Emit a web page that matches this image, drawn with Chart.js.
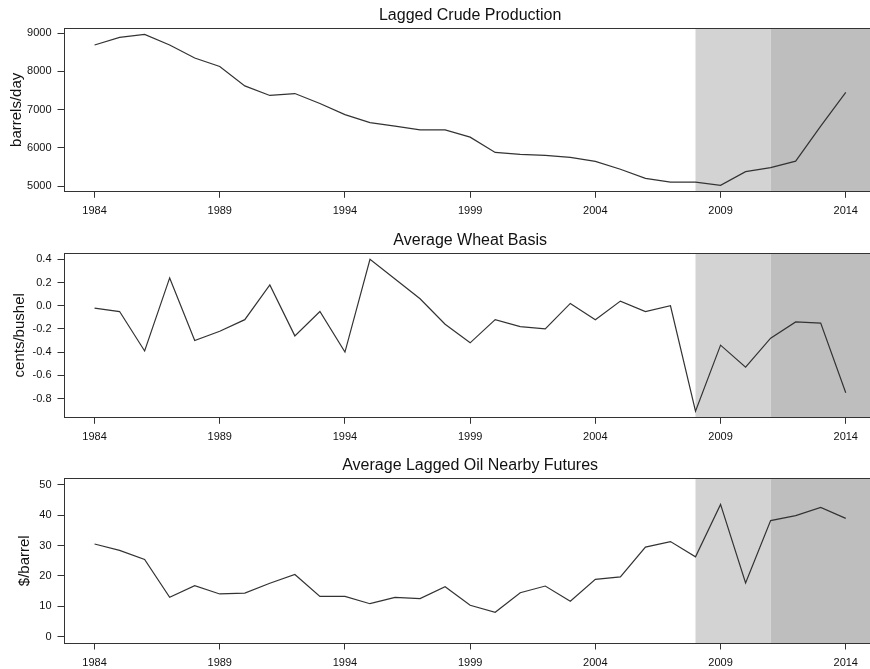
<!DOCTYPE html>
<html>
<head>
<meta charset="utf-8">
<script src="https://cdn.jsdelivr.net/npm/chart.js@4.4.1/dist/chart.umd.min.js"></script>
<style>
  html, body { margin: 0; padding: 0; background: #fff; overflow: hidden; width: 870px; height: 669px; }
  canvas { position: absolute; left: 0; }
</style>
</head>
<body>
<canvas id="crude" width="920" height="222" style="top:0px"></canvas>
<canvas id="wheat" width="920" height="224" style="top:222px"></canvas>
<canvas id="oil" width="920" height="223" style="top:446px"></canvas>
<script>
// Annual series, 1984-2014
const years = [1984, 1985, 1986, 1987, 1988, 1989, 1990, 1991, 1992, 1993,
               1994, 1995, 1996, 1997, 1998, 1999, 2000, 2001, 2002, 2003,
               2004, 2005, 2006, 2007, 2008, 2009, 2010, 2011, 2012, 2013, 2014];

// Lagged crude production, barrels/day
const crudeProduction = [8690, 8890, 8970, 8690, 8350, 8130, 7620, 7370, 7420, 7160,
                         6870, 6660, 6570, 6470, 6470, 6280, 5880, 5830, 5800, 5750,
                         5645, 5440, 5200, 5100, 5100, 5020, 5375, 5480, 5650, 6570, 7450];

// Average wheat basis, cents/bushel
const wheatBasis = [-0.02, -0.05, -0.39, 0.24, -0.30, -0.22, -0.12, 0.18, -0.26, -0.05,
                    -0.40, 0.40, 0.23, 0.06, -0.16, -0.32, -0.12, -0.18, -0.20, 0.02,
                    -0.12, 0.04, -0.05, 0.00, -0.91, -0.34, -0.53, -0.28, -0.14, -0.15, -0.75];

// Average lagged oil nearby futures, $/barrel
const oilFutures = [30.5, 28.4, 25.4, 13.0, 16.8, 14.1, 14.4, 17.6, 20.5, 13.3,
                    13.3, 10.9, 13.0, 12.6, 16.5, 10.4, 8.1, 14.5, 16.7, 11.7,
                    18.9, 19.7, 29.5, 31.3, 26.3, 43.5, 17.7, 38.2, 39.8, 42.5, 38.9];

// Axis tick values
const yearTicks  = [1984, 1989, 1994, 1999, 2004, 2009, 2014];
const crudeTicks = [5000, 6000, 7000, 8000, 9000];
const wheatTicks = [-0.8, -0.6, -0.4, -0.2, 0.0, 0.2, 0.4];
const oilTicks   = [0, 10, 20, 30, 40, 50];

// Start years of the two shaded periods (the second runs to the end of the axis)
const periodStarts = [2008, 2011];

const FONT = "'Liberation Sans', Arial, Helvetica, sans-serif";
const CANVAS_W = 920;
const PLOT_LEFT = 64.5;
const PLOT_RIGHT = 875.8;

// Extend a range by 4% at each end, like a default base-graphics axis
function padRange(lo, hi) {
  const d = (hi - lo) * 0.04;
  return [lo - d, hi + d];
}

const shadePlugin = {
  id: 'periodShade',
  beforeDatasetsDraw(chart) {
    const { ctx, chartArea: a, scales: { x } } = chart;
    const fills = ['#d3d3d3', '#bebebe'];
    ctx.save();
    periodStarts.forEach((start, i) => {
      const x0 = x.getPixelForValue(start);
      const x1 = i + 1 < periodStarts.length ? x.getPixelForValue(periodStarts[i + 1]) : a.right;
      ctx.fillStyle = fills[i];
      ctx.fillRect(x0, a.top, x1 - x0, a.bottom - a.top);
    });
    ctx.restore();
  }
};

const boxPlugin = {
  id: 'plotBox',
  afterDatasetsDraw(chart) {
    const { ctx, chartArea: a } = chart;
    const l = Math.floor(a.left) + 0.5, t = Math.floor(a.top) + 0.5;
    const r = Math.floor(a.right) + 0.5, b = Math.floor(a.bottom) + 0.5;
    ctx.save();
    ctx.strokeStyle = '#333';
    ctx.lineWidth = 1;
    ctx.strokeRect(l, t, r - l, b - t);
    ctx.restore();
  }
};

function makePanel(p) {
  const canvas = document.getElementById(p.id);
  const H = canvas.height;
  const [xmin, xmax] = padRange(years[0], years[years.length - 1]);
  const [ymin, ymax] = p.ylim
    ? padRange(p.ylim[0], p.ylim[1])
    : padRange(Math.min(...p.values), Math.max(...p.values));

  return new Chart(canvas, {
    type: 'line',
    data: {
      datasets: [{
        data: years.map((yr, i) => ({ x: yr, y: p.values[i] })),
        borderColor: '#333',
        borderWidth: 1.2,
        pointRadius: 0,
        tension: 0,
        fill: false
      }]
    },
    options: {
      responsive: false,
      animation: false,
      devicePixelRatio: 1,
      layout: { padding: { left: 0, right: CANVAS_W - PLOT_RIGHT, top: 0, bottom: 0 } },
      plugins: {
        legend: { display: false },
        tooltip: { enabled: false },
        title: {
          display: true,
          text: p.title,
          fullSize: false,
          color: '#111',
          font: { family: FONT, size: 16, weight: 'normal', lineHeight: 1.2 },
          padding: { top: p.boxTop - 22.6, bottom: 3.4 }
        }
      },
      scales: {
        x: {
          type: 'linear',
          min: xmin,
          max: xmax,
          afterBuildTicks: s => { s.ticks = yearTicks.map(v => ({ value: v })); },
          afterFit: s => { s.height = H - p.boxBottom; },
          grid: { drawOnChartArea: false, drawTicks: true, tickLength: 6.5, color: '#333', lineWidth: 1 },
          border: { display: false },
          ticks: {
            autoSkip: false,
            maxRotation: 0,
            padding: 7,
            color: '#111',
            font: { family: FONT, size: 11 },
            callback: v => String(v)
          }
        },
        y: {
          type: 'linear',
          min: ymin,
          max: ymax,
          afterBuildTicks: s => { s.ticks = p.ticks.map(v => ({ value: v })); },
          afterFit: s => { s.width = PLOT_LEFT; },
          grid: { drawOnChartArea: false, drawTicks: true, tickLength: 7, color: '#333', lineWidth: 1 },
          border: { display: false },
          ticks: {
            padding: 6,
            color: '#111',
            font: { family: FONT, size: 11 },
            callback: v => p.decimals ? Number(v).toFixed(p.decimals) : String(v)
          },
          title: {
            display: true,
            text: p.yTitle,
            color: '#111',
            font: { family: FONT, size: 15, lineHeight: 1.2 },
            padding: { top: p.yTitlePad, bottom: 0 }
          }
        }
      }
    },
    plugins: [shadePlugin, boxPlugin]
  });
}

makePanel({ id: 'crude', title: 'Lagged Crude Production', yTitle: 'barrels/day',
            values: crudeProduction, ticks: crudeTicks, decimals: 0,
            boxTop: 28.3, boxBottom: 191.3, yTitlePad: 7.6 });
makePanel({ id: 'wheat', title: 'Average Wheat Basis', yTitle: 'cents/bushel',
            values: wheatBasis, ticks: wheatTicks, decimals: 1,
            boxTop: 31.3, boxBottom: 195.3, yTitlePad: 11 });
makePanel({ id: 'oil', title: 'Average Lagged Oil Nearby Futures', yTitle: '$/barrel',
            values: oilFutures, ticks: oilTicks, decimals: 0, ylim: [0, 50],
            boxTop: 32.5, boxBottom: 197, yTitlePad: 15.5 });
</script>
</body>
</html>
